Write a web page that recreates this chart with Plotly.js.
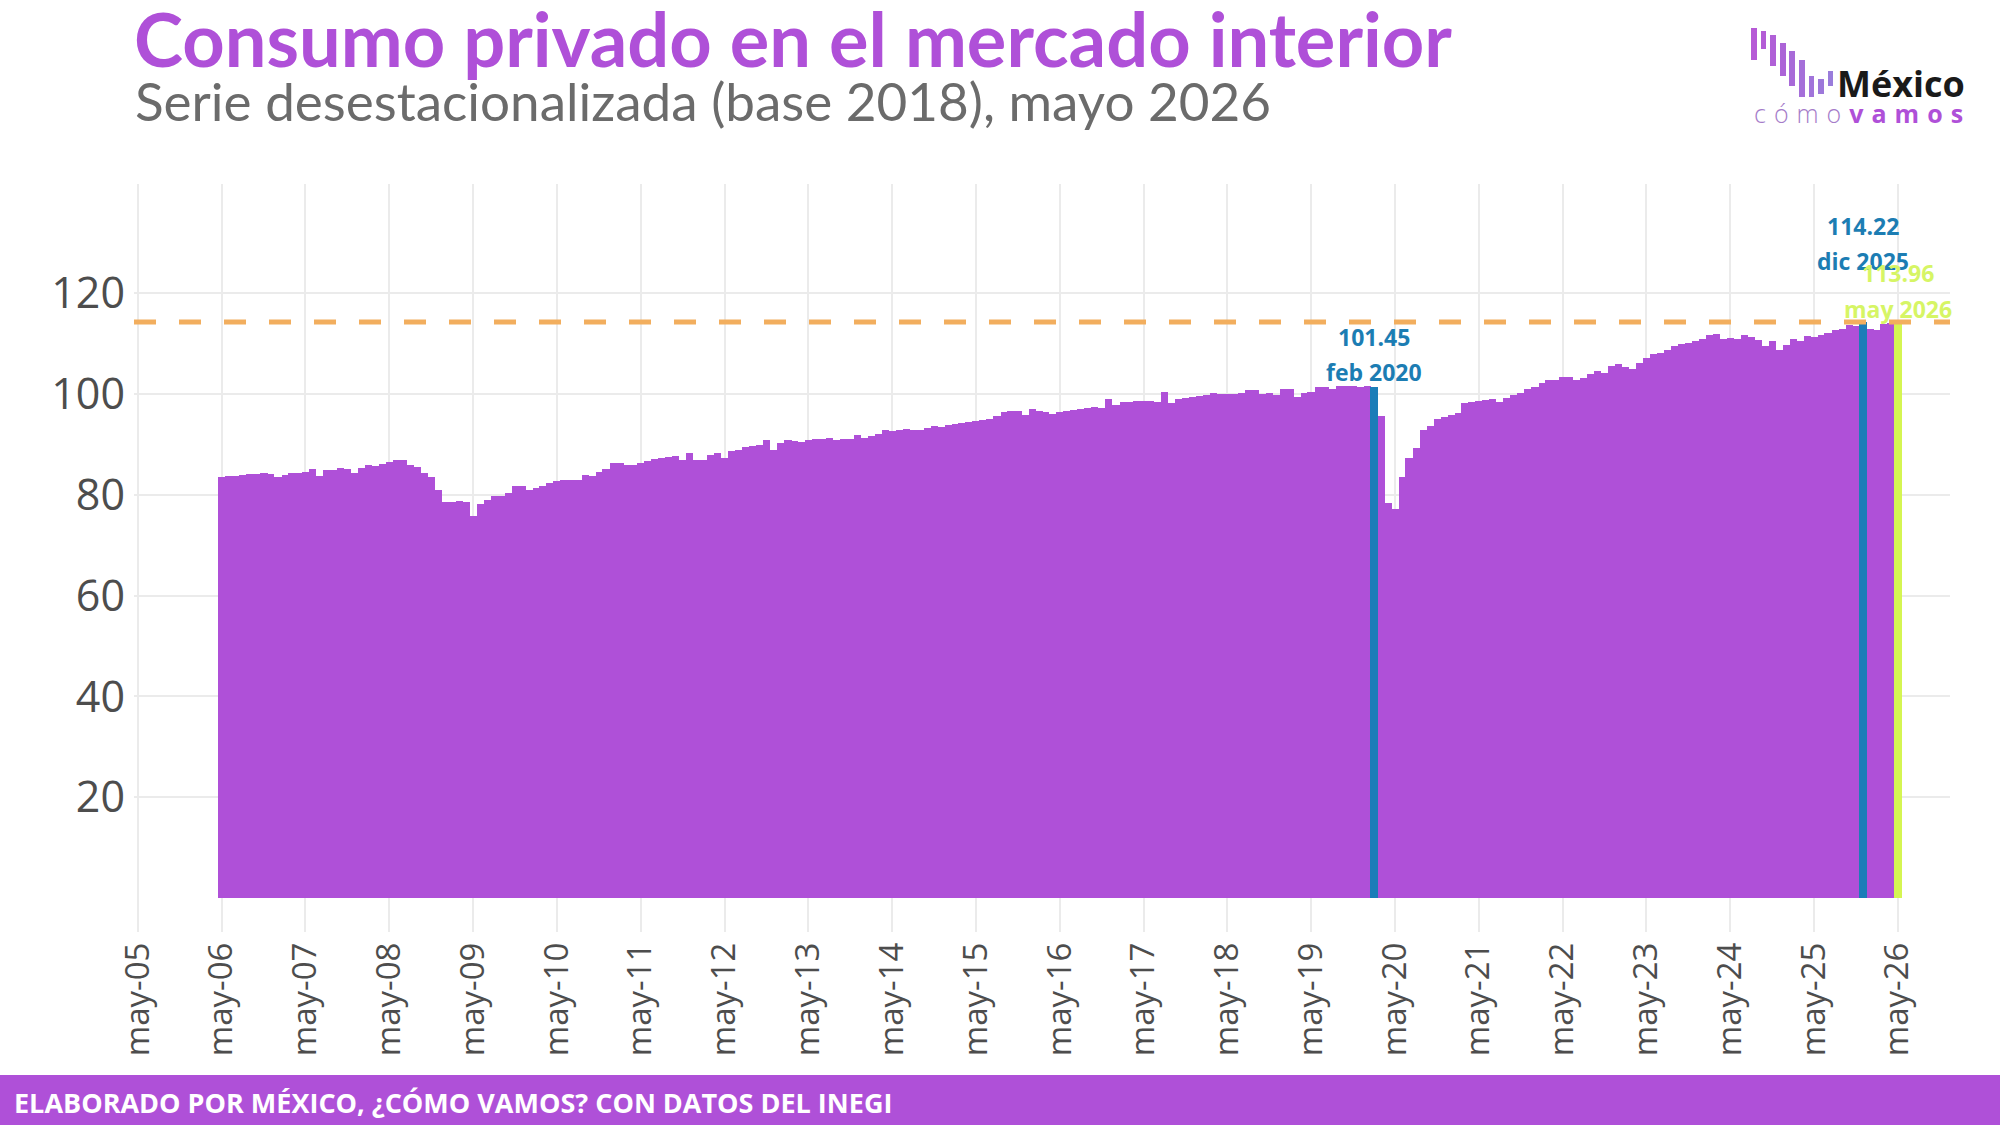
<!DOCTYPE html>
<html>
<head>
<meta charset="utf-8">
<script src="https://cdn.plot.ly/plotly-3.0.1.min.js"></script>
<style>html,body{margin:0;padding:0;background:#fff;}#chart{width:2000px;height:1125px;}</style>
</head>
<body>
<div id="chart"></div>
<script>
// ---- DATA ----
const startMonth = '2006-05';
const consumo = [
  83.5, 83.8, 83.8, 83.9, 84.1, 84.2, 84.3, 84.1, 83.5, 84.0, 84.4, 84.4,
  84.5, 85.0, 83.8, 84.8, 84.8, 85.2, 85.1, 84.4, 85.3, 85.9, 85.6, 86.1,
  86.5, 86.8, 86.9, 85.9, 85.4, 84.3, 83.5, 80.9, 78.5, 78.6, 78.7, 78.5,
  75.8, 78.1, 79.0, 79.8, 79.7, 80.3, 81.8, 81.8, 80.9, 81.3, 81.8, 82.4,
  82.8, 82.9, 82.9, 82.9, 83.9, 83.8, 84.6, 85.0, 86.3, 86.2, 85.9, 85.8,
  86.3, 86.6, 87.0, 87.3, 87.5, 87.7, 86.9, 88.2, 86.9, 86.9, 87.9, 88.3,
  87.3, 88.6, 88.9, 89.4, 89.7, 89.8, 90.8, 88.9, 90.2, 90.8, 90.7, 90.4,
  90.9, 91.0, 91.1, 91.2, 90.9, 91.0, 91.0, 91.9, 91.2, 91.7, 92.1, 92.9,
  92.6, 92.8, 93.0, 92.8, 92.9, 93.2, 93.7, 93.4, 93.9, 94.1, 94.2, 94.5,
  94.7, 94.9, 95.0, 95.6, 96.4, 96.6, 96.6, 95.9, 97.0, 96.5, 96.4, 96.0,
  96.3, 96.6, 96.8, 96.9, 97.1, 97.3, 97.2, 98.9, 97.7, 98.3, 98.3, 98.5,
  98.5, 98.5, 98.4, 100.3, 98.2, 99.0, 99.1, 99.3, 99.6, 99.8, 100.2, 100.0,
  99.9, 100.0, 100.1, 100.8, 100.7, 99.9, 100.2, 99.8, 100.9, 100.9, 99.3, 100.1,
  100.3, 101.3, 101.3, 100.9, 101.5, 101.5, 101.6, 101.4, 101.5, 101.45, 95.6, 78.4,
  77.2, 83.5, 87.2, 89.2, 92.9, 93.6, 95.0, 95.4, 95.8, 96.2, 98.2, 98.3,
  98.5, 98.7, 99.0, 98.3, 99.2, 99.7, 100.1, 100.9, 101.3, 102.1, 102.8, 102.8,
  103.4, 103.3, 102.8, 103.1, 104.0, 104.6, 104.2, 105.5, 106.0, 105.4, 105.0, 106.2,
  107.1, 107.8, 108.1, 108.6, 109.4, 109.8, 110.1, 110.4, 110.8, 111.7, 111.9, 110.8,
  111.0, 110.9, 111.7, 111.3, 110.6, 109.5, 110.4, 108.6, 109.6, 110.9, 110.4, 111.5,
  111.3, 111.7, 112.1, 112.7, 112.9, 113.7, 113.4, 114.22, 112.9, 112.6, 113.9, 114.0,
  113.96
];
const highlightMonths = ['2020-02', '2025-12', '2026-05'];
const highlightColors = ['#1B7DB8', '#1B7DB8', '#D5F552'];
const highlightTextColors = ['#1C7DB3', '#1C7DB3', '#D6F565'];
const mesesCortos = ['ene','feb','mar','abr','may','jun','jul','ago','sep','oct','nov','dic'];
const tickYears = ['05','06','07','08','09','10','11','12','13','14','15','16','17','18','19','20','21','22','23','24','25','26'];
const yTicks = [20, 40, 60, 80, 100, 120];

// ---- build dates ----
const dates = [];
{
  let y = +startMonth.slice(0,4), m = +startMonth.slice(5,7);
  for (let i = 0; i < consumo.length; i++) {
    dates.push(y + '-' + String(m).padStart(2,'0') + '-01');
    m++; if (m > 12) { m = 1; y++; }
  }
}
const tickVals = tickYears.map(t => '20' + t + '-05-01');
const tickText = tickYears.map(t => 'may-' + t);

const DAY = 86400000;
const hlX = [], hlY = [];
highlightMonths.forEach(hm => {
  const i = dates.indexOf(hm + '-01');
  hlX.push(dates[i]); hlY.push(consumo[i]);
});
const maxVal = Math.max(...consumo);

// pixel helpers (plot area: x 134..1950, y 184..932)
const PL = 134, PW = 1816, PB = 932, PH = 748;
const px = p => (p - PL) / PW;
const py = p => (PB - p) / PH;

const purple = '#AF50D8';

const traces = [
  {
    type: 'bar', x: dates, y: consumo,
    width: dates.map(() => 31 * DAY),
    marker: { color: purple, line: { width: 0 } },
    hoverinfo: 'skip'
  },
  {
    type: 'bar', x: hlX, y: hlY,
    width: hlX.map(() => 34 * DAY),
    marker: { color: highlightColors, line: { width: 0 } },
    hoverinfo: 'skip'
  }
];

const annotations = [];
const labelOffsets = [[9.8, 2.9], [19.0, 12.1], [9.9, 2.8]];
hlX.forEach((d, k) => {
  const mIdx = +d.slice(5,7) - 1;
  const yr = d.slice(0,4);
  annotations.push({
    x: d, y: hlY[k] + labelOffsets[k][0], xref: 'x', yref: 'y',
    text: '<b>' + hlY[k].toFixed(2) + '</b>', showarrow: false,
    font: { family: 'Open Sans', size: 23, color: highlightTextColors[k] },
    xanchor: 'center', yanchor: 'middle'
  });
  annotations.push({
    x: d, y: hlY[k] + labelOffsets[k][1], xref: 'x', yref: 'y',
    text: '<b>' + mesesCortos[mIdx] + ' ' + yr + '</b>', showarrow: false,
    font: { family: 'Open Sans', size: 23, color: highlightTextColors[k] },
    xanchor: 'center', yanchor: 'middle'
  });
});

// titles
annotations.push({
  xref: 'paper', yref: 'paper', x: px(132), y: py(38), xanchor: 'left', yanchor: 'middle',
  text: '<b>Consumo privado en el mercado interior</b>', showarrow: false,
  font: { family: 'Lato', size: 74, color: purple }
});
annotations.push({
  xref: 'paper', yref: 'paper', x: px(133), y: py(101), xanchor: 'left', yanchor: 'middle',
  text: 'Serie desestacionalizada (base 2018), mayo 2026', showarrow: false,
  font: { family: 'Lato', size: 53, color: '#6B6B6B' }
});
// footer
annotations.push({
  xref: 'paper', yref: 'paper', x: px(12), y: py(1102), xanchor: 'left', yanchor: 'middle',
  text: '<b>ELABORADO POR MÉXICO, ¿CÓMO VAMOS? CON DATOS DEL INEGI</b>', showarrow: false,
  font: { family: 'Open Sans', size: 27, color: '#FFFFFF' }
});
// logo text
annotations.push({
  xref: 'paper', yref: 'paper', x: px(1835), y: py(84), xanchor: 'left', yanchor: 'middle',
  text: '<b>México</b>', showarrow: false,
  font: { family: 'Open Sans', size: 36, color: '#1A1A1A' }
});
annotations.push({
  xref: 'paper', yref: 'paper', x: px(1788), y: py(113), xanchor: 'left', yanchor: 'middle',
  text: '<span style="color:#A57CC9">cómo</span><b>vamos</b>', showarrow: false,
  font: { family: 'Open Sans', size: 25, color: purple, weight: 300 }
});

const shapes = [
  // max reference line
  { type: 'line', xref: 'paper', yref: 'y', x0: 0, x1: 1, y0: maxVal, y1: maxVal,
    line: { color: '#F2AE5E', width: 5, dash: '22px,23px' }, layer: 'above' },
  // footer band
  { type: 'rect', xref: 'paper', yref: 'paper', x0: px(-5), x1: px(2005), y0: py(1075), y1: py(1130),
    fillcolor: purple, line: { width: 0 }, layer: 'above' }
];
// logo bars (pixel boxes)
const logoBars = [
  [1751,1757,28,60,'#B65AD6'], [1761,1766,31,49,'#B45CD6'], [1770,1776,35,66,'#B060D7'],
  [1780,1786,43,76,'#AC64D7'], [1789,1795,51,86,'#A86AD8'], [1799,1805,60,97,'#A56FD9'],
  [1809,1814,76,97,'#A174DA'], [1818,1824,79,94,'#9D78DA'], [1828,1833,71,86,'#9A7CDB']
];
logoBars.forEach(b => shapes.push({
  type: 'rect', xref: 'paper', yref: 'paper', x0: px(b[0]), x1: px(b[1]), y0: py(b[3]), y1: py(b[2]),
  fillcolor: b[4], line: { width: 0 }, layer: 'above'
}));

const layout = {
  width: 2000, height: 1125,
  margin: { l: PL, r: 2000 - PL - PW, t: 184, b: 1125 - PB },
  paper_bgcolor: '#FFFFFF', plot_bgcolor: '#FFFFFF',
  showlegend: false, barmode: 'overlay', bargap: 0,
  font: { family: 'Open Sans', color: '#4D4D4D' },
  xaxis: {
    type: 'date',
    range: ['2005-04-13 14:00', '2026-12-15'],
    tickvals: tickVals, ticktext: tickText, tickangle: -90,
    tickfont: { family: 'Open Sans', size: 33, color: '#4D4D4D' },
    ticklabelstandoff: 3,
    showgrid: true, gridcolor: '#EBEBEB', gridwidth: 2,
    zeroline: false, showline: false, ticks: '', fixedrange: true
  },
  yaxis: {
    range: [-6.7, 141.6],
    tickvals: yTicks, ticktext: yTicks.map(String),
    tickfont: { family: 'Open Sans', size: 43, color: '#4D4D4D' },
    ticklabelstandoff: 8,
    showgrid: true, gridcolor: '#EBEBEB', gridwidth: 2,
    zeroline: false, showline: false, ticks: '', fixedrange: true
  },
  annotations: annotations,
  shapes: shapes
};

Plotly.newPlot('chart', traces, layout, { staticPlot: true, displayModeBar: false }).then(() => {
  document.querySelectorAll('.annotation-text').forEach(t => {
    if (t.textContent === 'cómovamos') t.style.letterSpacing = '8px';
  });
});
</script>
</body>
</html>
